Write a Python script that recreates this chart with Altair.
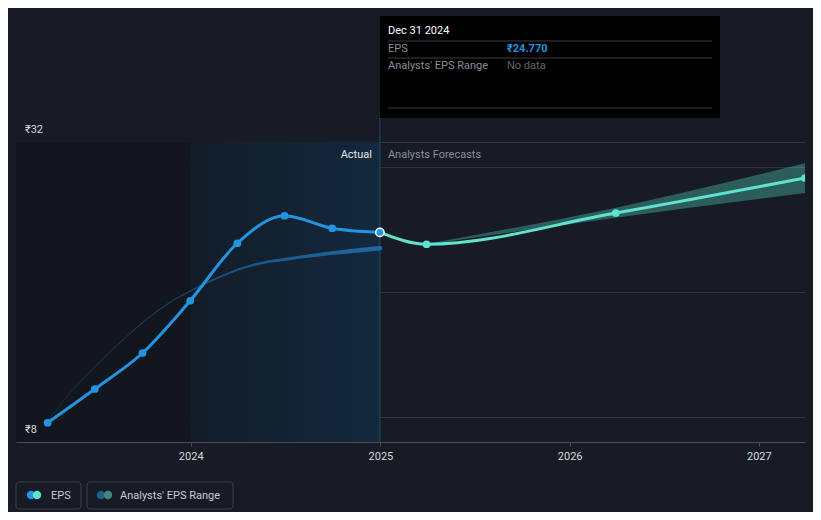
import altair as alt
import pandas as pd

# ---- data ----
act_dates = ["2023-03-31", "2023-06-30", "2023-09-30", "2023-12-31",
             "2024-03-31", "2024-06-30", "2024-09-30", "2024-12-31"]
act_eps = [9.54, 12.24, 15.12, 19.30, 23.90, 26.10, 25.10, 24.77]

# past analysts' estimate curve (thin line), read month by month
past_est_dates = ["2023-03-31", "2023-04-30", "2023-05-31", "2023-06-30",
                  "2023-07-31", "2023-08-31", "2023-09-30", "2023-10-31",
                  "2023-11-30", "2023-12-31", "2024-01-31", "2024-02-29",
                  "2024-03-31", "2024-04-30", "2024-05-31", "2024-06-30",
                  "2024-07-31", "2024-08-31", "2024-09-30", "2024-10-31",
                  "2024-11-30", "2024-12-31"]
past_est = [9.68, 11.28, 12.75, 14.01, 15.29, 16.46, 17.55, 18.55, 19.39,
            20.08, 20.72, 21.26, 21.78, 22.16, 22.44, 22.60, 22.80, 22.96,
            23.12, 23.25, 23.38, 23.50]

fc_dates = ["2024-12-31", "2025-03-31", "2026-03-31", "2027-03-31"]
fc_eps = [24.77, 23.82, 26.32, 29.12]

rng_dates = ["2025-03-31", "2026-03-31", "2027-03-31"]
rng_low = [23.79, 25.95, 27.92]
rng_high = [23.85, 26.75, 30.30]

year_ticks = [2024, 2025, 2026, 2027]
y_labels = ["₹32", "₹8"]
y_label_vals = [32, 8]
grid_vals = [10, 20, 30, 32]

FONT = "Roboto"
BLUE = "#2394df"
TEAL = "#5fe3cc"
BG = "#161b25"


def local(s):
    return s + "T00:00:00"


act_df = pd.DataFrame({"date": [local(d) for d in act_dates], "eps": act_eps})
est_df = pd.DataFrame({"date": [local(d) for d in past_est_dates], "eps": past_est})
fc_df = pd.DataFrame({"date": [local(d) for d in fc_dates], "eps": fc_eps})
rng_df = pd.DataFrame({"date": [local(d) for d in rng_dates], "low": rng_low, "high": rng_high})
ylab_df = pd.DataFrame({"v": y_label_vals, "label": y_labels})
one = pd.DataFrame({"a": [0]})

xscale = alt.Scale(domain=[alt.DateTime(year=2023, month=1, date=29),
                           alt.DateTime(year=2027, month=3, date=31)])
yscale = alt.Scale(domain=[8, 32])

xaxis = alt.Axis(values=[alt.DateTime(year=y, month=1, date=1) for y in year_ticks],
                 format="%Y", title=None, grid=False, domainColor="#474c55",
                 tickColor="#474c55", tickSize=4, labelColor="#d9d9d9",
                 labelFont=FONT, labelFontSize=11, labelPadding=4)
yaxis = alt.Axis(values=grid_vals, labels=False, ticks=False, domain=False,
                 title=None, grid=True, gridColor="#30353e", gridWidth=1)

X = alt.X("date:T", scale=xscale, axis=xaxis)
Y = alt.Y("eps:Q", scale=yscale, axis=yaxis)

# background shading
shade_df = pd.DataFrame({"start": [local("2023-01-29"), local("2024-01-01")],
                         "end": [local("2024-01-01"), local("2024-12-31")]})
dark_bg = alt.Chart(shade_df.iloc[[0]]).mark_rect(color="#12161e").encode(
    x=alt.X("start:T", scale=xscale, axis=xaxis), x2="end:T",
    y=alt.value(0), y2=alt.value(300))

blue_bg = alt.Chart(shade_df.iloc[[1]]).mark_rect(
    color=alt.LinearGradient(gradient="linear",
                             stops=[alt.GradientStop(color="#121c28", offset=0),
                                    alt.GradientStop(color="#13293d", offset=1)],
                             x1=0, x2=1, y1=0, y2=0)).encode(
    x=alt.X("start:T", scale=xscale, axis=xaxis), x2="end:T",
    y=alt.value(0), y2=alt.value(300))

# gridlines via y axis (invisible point layer carrying axes)
axes_layer = alt.Chart(act_df).mark_point(opacity=0).encode(x=X, y=Y)

div_df = pd.DataFrame({"d": [local("2024-12-31")]})
divider = alt.Chart(div_df).mark_rule(color="#1f4b70", strokeWidth=1).encode(
    x=alt.X("d:T", scale=xscale, axis=xaxis), y=alt.value(-24), y2=alt.value(300))

est_trail = alt.Chart(est_df).mark_trail(
    color=alt.LinearGradient(gradient="linear",
                             stops=[alt.GradientStop(color="#142536", offset=0),
                                    alt.GradientStop(color="#1a4f7c", offset=0.45),
                                    alt.GradientStop(color="#1e68a6", offset=1)],
                             x1=0, x2=1, y1=0, y2=0)).encode(
    x=X, y=Y,
    size=alt.Size("date:T", legend=None,
                  scale=alt.Scale(domain=[alt.DateTime(year=2023, month=12, date=1),
                                          alt.DateTime(year=2024, month=12, date=31)],
                                  range=[0.9, 4.6], clamp=True)))

band = alt.Chart(rng_df).mark_area(color=TEAL, opacity=0.33,
                                   interpolate="monotone").encode(
    x=alt.X("date:T", scale=xscale, axis=xaxis),
    y=alt.Y("low:Q", scale=yscale, axis=yaxis), y2="high:Q")

act_line = alt.Chart(act_df).mark_line(color=BLUE, strokeWidth=3,
                                       interpolate="monotone").encode(x=X, y=Y)
act_pts = alt.Chart(act_df).transform_filter(
    "year(datum.date) < 2024 || month(datum.date) < 11").mark_circle(
    color=BLUE, size=60, opacity=1).encode(x=X, y=Y)

fc_line = alt.Chart(fc_df).mark_line(color=TEAL, strokeWidth=3,
                                     interpolate="monotone").encode(x=X, y=Y)
fc_pts = alt.Chart(fc_df).transform_filter("year(datum.date) > 2024").mark_circle(
    color=TEAL, size=60, opacity=1, clip=True).encode(x=X, y=Y)

hl_pt = alt.Chart(act_df).transform_filter(
    "year(datum.date) == 2024 && month(datum.date) == 11").mark_point(
    filled=True, fill=BLUE, stroke="white", strokeWidth=1.5, size=70,
    opacity=1).encode(x=X, y=Y)

ylabels = alt.Chart(ylab_df).mark_text(
    align="left", baseline="middle", dy=-12, font=FONT, fontSize=11,
    color="#d9d9d9").encode(
    x=alt.value(9), y=alt.Y("v:Q", scale=yscale, axis=yaxis), text="label:N")

actual_txt = alt.Chart(div_df).mark_text(
    text="Actual", align="right", baseline="middle", dx=-8, dy=1, font=FONT,
    fontSize=11, color="#e6e6e6").encode(
    x=alt.X("d:T", scale=xscale, axis=xaxis), y=alt.value(12))
fc_txt = alt.Chart(div_df).mark_text(
    text="Analysts Forecasts", align="left", baseline="middle", dx=8, dy=1, font=FONT,
    fontSize=11, color="#8a8f98").encode(
    x=alt.X("d:T", scale=xscale, axis=xaxis), y=alt.value(12))


# ---- tooltip box (decoration) ----
def txt(s, x, y, color, size=11, weight="normal", align="left"):
    return alt.Chart(one).mark_text(
        text=s, align=align, baseline="middle", font=FONT, fontSize=size,
        fontWeight=weight, color=color).encode(x=alt.value(x), y=alt.value(y))


def hline(x1, x2, y, color):
    return alt.Chart(one).mark_rule(color=color, strokeWidth=1).encode(
        x=alt.value(x1), x2=alt.value(x2), y=alt.value(y))


tip_box = alt.Chart(one).mark_rect(color="#000000").encode(
    x=alt.value(364), x2=alt.value(704), y=alt.value(-126), y2=alt.value(-24))
tip = [tip_box,
       txt("Dec 31 2024", 372, -111, "#ffffff"),
       hline(372, 696, -101, "#3a3d42"),
       txt("EPS", 372, -93, "#8a8f98"),
       txt("₹24.770", 491, -93, BLUE, weight="bold"),
       hline(372, 696, -84, "#3a3d42"),
       txt("Analysts' EPS Range", 372, -76, "#8a8f98"),
       txt("No data", 491, -76, "#5f636a"),
       hline(372, 696, -34, "#3a3d42")]


# ---- legend (decoration) ----
def box(x1, x2):
    return alt.Chart(one).mark_rect(fillOpacity=0, stroke="#3d424b", strokeWidth=1,
                                    cornerRadius=3).encode(
        x=alt.value(x1), x2=alt.value(x2), y=alt.value(340), y2=alt.value(367))


def dot(x, color):
    return alt.Chart(one).mark_circle(color=color, size=70, opacity=1).encode(
        x=alt.value(x), y=alt.value(353))


legend = [box(0, 65), dot(15, BLUE), dot(21, TEAL), txt("EPS", 35, 353.5, "#c8ccd2"),
          box(71, 217), dot(85, "#1e5f8e"), dot(92, "#3b8a82"),
          txt("Analysts' EPS Range", 104, 353.5, "#c8ccd2")]

chart = alt.layer(
    dark_bg, blue_bg, axes_layer, divider, est_trail, band, act_line, fc_line,
    act_pts, fc_pts, hl_pt, ylabels, actual_txt, fc_txt, *tip, *legend
).properties(
    width=789, height=300,
    autosize=alt.AutoSizeParams(type="none"),
    padding={"left": 8, "top": 134, "right": 8, "bottom": 70},
    background=BG,
).configure_view(stroke=None)

chart.save("out.html", embed_options={"renderer": "svg", "actions": False})
